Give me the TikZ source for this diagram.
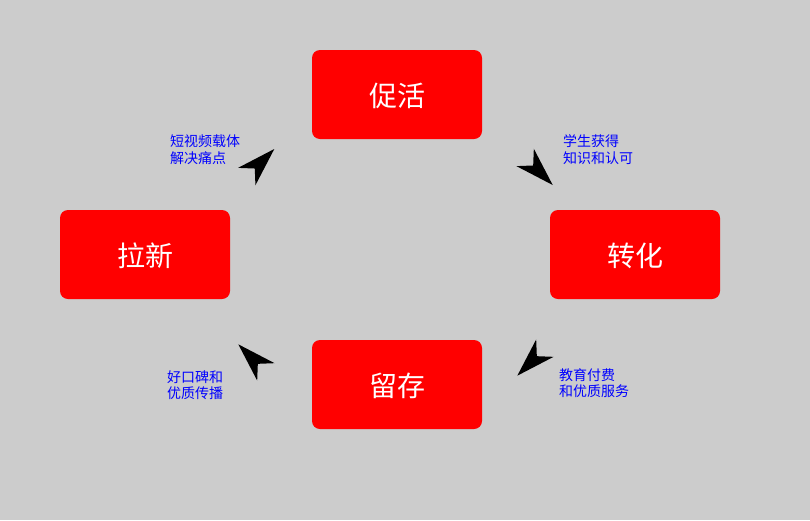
\documentclass[tikz,border=0pt]{standalone}
\usepackage{fontspec}
\setmainfont{Noto Sans CJK SC}
\definecolor{bg}{RGB}{204,204,204}
\definecolor{boxred}{RGB}{255,0,0}
\definecolor{lblue}{RGB}{0,0,255}
\tikzset{
  stagebox/.style={fill=boxred, draw=none, rounded corners=8pt, minimum width=170pt, minimum height=89pt, inner sep=0pt, text=white, text height=27pt, text depth=3pt, font=\fontsize{28}{30}\selectfont},
  note/.style={anchor=west, align=left, inner sep=0pt, text=lblue, font=\fontsize{14}{16.5}\selectfont},
  ahead/.pic={\fill[black] (0,0) -- (-39,12.3) -- (-27.6,0) -- (-39,-12.3) -- cycle;}
}
\begin{document}
\begin{tikzpicture}[x=1pt,y=-1pt]
\fill[bg] (0,0) rectangle (810,520);
\useasboundingbox (0,0) rectangle (810,520);
\node[stagebox] (cuhuo) at (397,94.5) {促活};
\node[stagebox] (laxin) at (145,254.5) {拉新};
\node[stagebox] (zhuanhua) at (635,254.5) {转化};
\node[stagebox] (liucun) at (397,384.5) {留存};
\node[note] (n1) at (170,149.5) {短视频载体\\解决痛点};
\node[note] (n2) at (563,149.5) {学生获得\\知识和认可};
\node[note] (n3) at (167,385) {好口碑和\\优质传播};
\node[note] (n4) at (559,383) {教育付费\\和优质服务};
\coordinate (t1) at (274.3,149);
\coordinate (t2) at (552.7,185);
\coordinate (t3) at (517.3,375.7);
\coordinate (t4) at (238.3,344.3);
\pic[rotate=45] at (t1) {ahead};
\pic[rotate=-45] at (t2) {ahead};
\pic[rotate=-135] at (t3) {ahead};
\pic[rotate=135] at (t4) {ahead};
\end{tikzpicture}
\end{document}
